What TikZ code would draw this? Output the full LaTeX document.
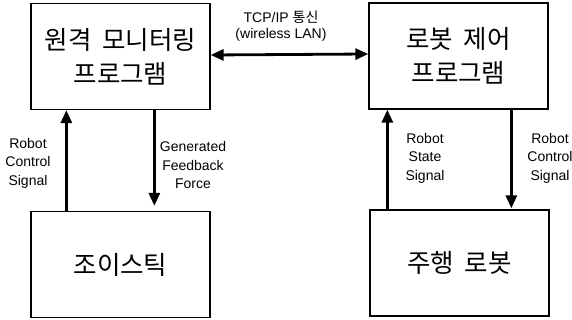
\documentclass[tikz,border=0pt]{standalone}
\usepackage{fontspec}
\setmainfont{Liberation Sans}
\newfontfamily\krfont{Noto Sans CJK KR}
\newfontfamily\krbig[WordSpace={1.8}]{Noto Sans CJK KR}
\usetikzlibrary{arrows.meta,calc}
\begin{document}
\begin{tikzpicture}[x=1pt,y=-1pt,
  box/.style={draw,line width=1.3pt,minimum width=179pt,minimum height=106pt,inner sep=0pt,
    align=center,font=\krbig\fontsize{25.5}{34}\selectfont},
  arr/.style={line width=2.8pt,-{Triangle[length=13pt,width=11pt]}},
  darr/.style={line width=2.8pt,{Triangle[length=13pt,width=11pt]}-{Triangle[length=13pt,width=11pt]}},
  lbl/.style={align=center,inner sep=0pt,font=\fontsize{14}{18.5}\selectfont}]
\useasboundingbox (0,0) rectangle (572,320);
\fill[white] (0,0) rectangle (572,320);
\node[box] (mon) at (120.5,56.5) {원격 모니터링\\프로그램};
\node[box] (rob) at (458.5,56) {로봇 제어\\프로그램};
\node[box] (joy) at (120.5,264.5) {조이스틱};
\node[box] (mob) at (459.5,263) {주행 로봇};
\draw[darr] ([yshift=1.5pt]mon.east) -- ([yshift=2pt]rob.west);
\draw[arr] ($(joy.north west)+(36,0)$) -- ($(mon.south west)+(36,0)$);
\draw[arr,shorten >=5pt] ($(mon.south west)+(124,0)$) -- ($(joy.north west)+(124,0)$);
\draw[arr] ($(mob.north west)+(18,0)$) -- ($(rob.south west)+(19,0)$);
\draw[arr,shorten >=1pt] ($(rob.south west)+(143,0)$) -- ($(mob.north west)+(142,0)$);
\node[lbl,font=\fontsize{14}{16}\selectfont] (tcp) at (281,26) {TCP/IP {\krfont 통신}\\(wireless LAN)};
\node[lbl] (l1) at (28,163) {Robot\\Control\\Signal};
\node[lbl] (l2) at (193,165) {Generated\\Feedback\\Force};
\node[lbl] (l3) at (425,158) {Robot\\State\\Signal};
\node[lbl] (l4) at (550,158) {Robot\\Control\\Signal};
\end{tikzpicture}
\end{document}
